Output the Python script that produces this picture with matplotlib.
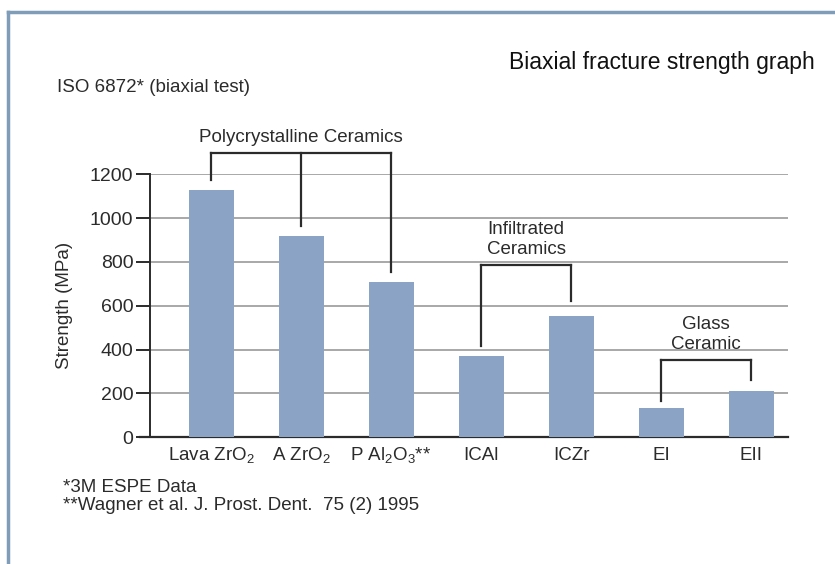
import matplotlib
matplotlib.use('Agg')
import matplotlib.pyplot as plt
from matplotlib.lines import Line2D

# ─────────────────────────────────────────────
# Data
# ─────────────────────────────────────────────
materials = ['Lava ZrO$_2$', 'A ZrO$_2$', 'P Al$_2$O$_3$**', 'ICAl', 'ICZr', 'EI', 'EII']
strength = [1130, 920, 710, 372, 553, 132, 211]
y_ticks = [0, 200, 400, 600, 800, 1000, 1200]

# group brackets: label, member indices, bracket top level, drop levels per member
groups = [
    ('Polycrystalline Ceramics', [0, 1, 2], 1298, [1175, 965, 755]),
    ('Infiltrated\nCeramics', [3, 4], 785, [418, 623]),
    ('Glass\nCeramic', [5, 6], 353, [166, 262]),
]

plt.rcParams['font.family'] = ['Liberation Sans', 'DejaVu Sans']
plt.rcParams['mathtext.default'] = 'regular'

TXT = '#2b2b2b'
BAR = '#8ba3c5'
GRID = '#a8a8a8'
W, H = 835, 564

fig = plt.figure(figsize=(W / 100, H / 100), dpi=100)
ax = fig.add_axes([150 / W, 1 - 437.3 / H, (788 - 150) / W, (437.3 - 174.3) / H])

ax.bar(range(len(materials)), strength, width=0.5, color=BAR, zorder=3)
ax.set_xlim(-0.678, 6.41)
ax.set_ylim(0, 1200)
ax.set_yticks(y_ticks)
ax.yaxis.grid(True, color=GRID, linewidth=1.4, zorder=0)
ax.set_axisbelow(True)

for s in ['top', 'right']:
    ax.spines[s].set_visible(False)
ax.spines['left'].set_color(TXT)
ax.spines['left'].set_linewidth(1.4)
ax.spines['bottom'].set_color(TXT)
ax.spines['bottom'].set_linewidth(1.6)
ax.spines['bottom'].set_bounds(-0.79, 6.41)

ax.set_xticks(range(len(materials)))
ax.set_xticklabels(materials, fontsize=13.5, color=TXT)
# align on baselines so the subscripted labels sit level with the plain ones
for lbl in ax.get_xticklabels():
    lbl.set_verticalalignment('baseline')
ax.tick_params(axis='x', length=0, pad=16)
ax.tick_params(axis='y', length=10, width=1.4, color=TXT, labelsize=14,
               labelcolor=TXT, pad=2)
ax.set_ylabel('Strength (MPa)', fontsize=13.5, color=TXT, labelpad=12)

# brackets
for label, idx, top, drops in groups:
    xs = [idx[0], idx[-1]]
    ax.plot(xs, [top, top], color=TXT, lw=1.6, clip_on=False, zorder=4)
    for i, d in zip(idx, drops):
        ax.plot([i, i], [top, d], color=TXT, lw=1.6, clip_on=False, zorder=4)
    ax.text((xs[0] + xs[1]) / 2, top + 32, label, ha='center', va='bottom',
            fontsize=13.5, color=TXT, linespacing=1.25, clip_on=False)

# texts
fig.text(815 / W, 1 - 63 / H, 'Biaxial fracture strength graph', ha='right',
         va='center', fontsize=16.5, color='#111111')
fig.text(57 / W, 1 - 87 / H, 'ISO 6872* (biaxial test)', ha='left',
         va='center', fontsize=13.5, color=TXT)
fig.text(63 / W, 1 - 487 / H, '*3M ESPE Data', ha='left', va='center',
         fontsize=13.5, color=TXT)
fig.text(63 / W, 1 - 506 / H, '**Wagner et al. J. Prost. Dent.  75 (2) 1995',
         ha='left', va='center', fontsize=13.5, color=TXT)

# frame
frame = '#7f9cb8'
fig.add_artist(Line2D([8 / W, 8 / W], [0, 1 - 12 / H], color=frame, lw=2.5))
fig.add_artist(Line2D([8 / W, 1], [1 - 12 / H, 1 - 12 / H], color=frame, lw=2.5))

fig.savefig('out.png', dpi=100)
